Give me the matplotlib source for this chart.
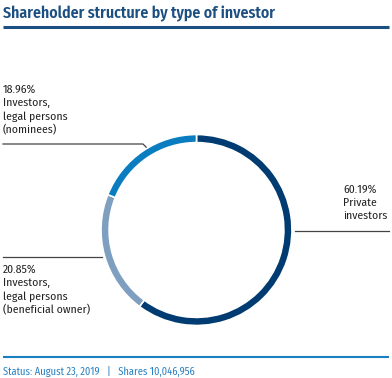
import matplotlib.pyplot as plt

labels = ["Private\ninvestors", "Investors,\nlegal persons\n(beneficial owner)", "Investors,\nlegal persons\n(nominees)"]
shares = [60.19, 20.85, 18.96]
colors = ["#003c71", "#7e9fbf", "#0a7dc0"]

title = "Shareholder structure by type of investor"
footer = "Status: August 23, 2019   |   Shares 10,046,956"

W, H = 392, 378
plt.rcParams['font.family'] = ['Fira Sans Condensed', 'Archivo Narrow', 'DejaVu Sans']

fig = plt.figure(figsize=(W / 100, H / 100), dpi=100)

# overlay in pixel coordinates
ov = fig.add_axes([0, 0, 1, 1])
ov.set_xlim(0, W)
ov.set_ylim(H, 0)
ov.axis("off")

# donut
cx, cy, r = 196.5, 230, 95.5
ax = fig.add_axes([(cx - r) / W, (H - cy - r) / H, 2 * r / W, 2 * r / H])
ax.pie(shares, colors=colors, startangle=90, counterclock=False, radius=1,
       wedgeprops=dict(width=0.085, edgecolor="white", linewidth=1.2))
ax.set_xlim(-1, 1)
ax.set_ylim(-1, 1)
ax.axis("off")

# title and rules
ov.text(3, 18, title, fontsize=11.4, fontweight="semibold", color="#1b4f82", va="baseline")
ov.plot([3, 389], [27, 27], color="#1b4f82", lw=2.2, solid_capstyle="butt")
ov.plot([3, 389], [357, 357], color="#1a7fc1", lw=1.5, solid_capstyle="butt")
ov.text(3, 375, footer, fontsize=7.5, color="#2a80c0", va="baseline")

# labels
fs = 8.4
ls = 1.33
ov.text(3, 84, "%.2f%%\n%s" % (shares[2], labels[2]), fontsize=fs, color="#222222",
        va="top", linespacing=ls)
ov.plot([3, 143, 147], [144, 144, 148], color="#444444", lw=0.9)

ov.text(343, 184, "%.2f%%\n%s" % (shares[0], labels[0]), fontsize=fs, color="#222222",
        va="top", linespacing=ls)
ov.plot([295, 389], [231, 231], color="#444444", lw=0.9)

ov.text(3, 264, "%.2f%%\n%s" % (shares[1], labels[1]), fontsize=fs, color="#222222",
        va="top", linespacing=ls)
ov.plot([3, 102], [257, 257], color="#444444", lw=0.9)

fig.savefig("out.png", dpi=100)
